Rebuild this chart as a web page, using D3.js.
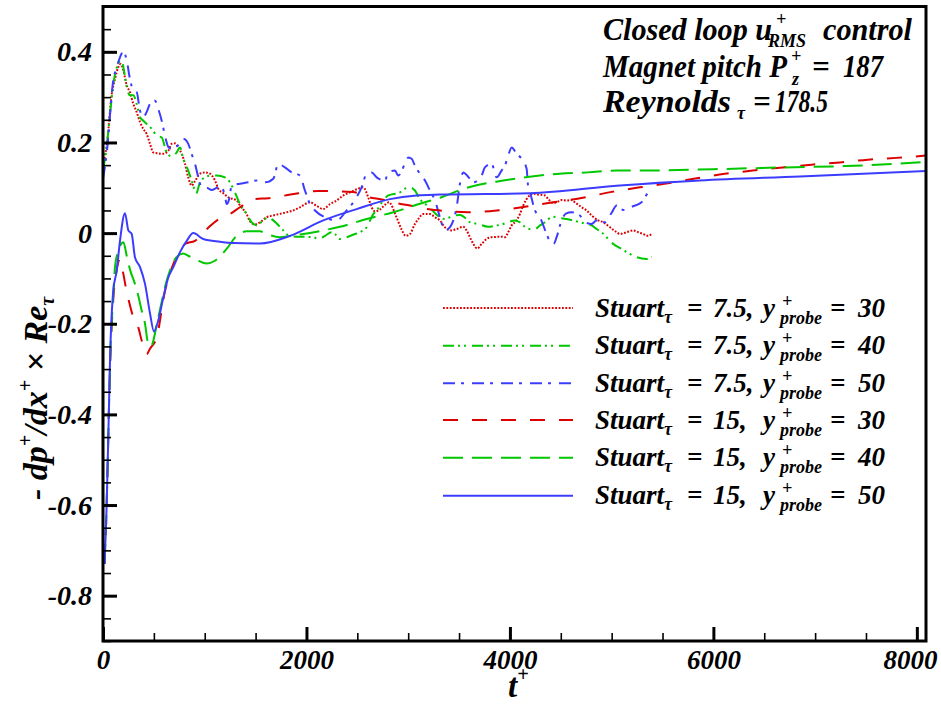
<!DOCTYPE html>
<html><head><meta charset="utf-8">
<script src="https://cdn.jsdelivr.net/npm/d3@7"></script>
<style>body{margin:0;background:#fff}</style>
</head><body>
<svg id="c" width="941" height="706"></svg>
<script>
// ---------------- DATA ----------------
// Stuart_tau = 7.5, y+probe = 30 (red dotted)
const tS75p30 = [0,40,86,118,150,174,200,233,265,298,331,364,396,429,462,494,543,593,642,675,708,740,773,806,838,871,905,953,1002,1052,1101,1133,1183,1232,1314,1346,1412,1445,1494,1543,1609,1674,1805,1870,1936,2035,2100,2165,2231,2297,2362,2427,2509,2558,2607,2641,2673,2722,2770,2810,2885,2935,2975,3017,3066,3099,3148,3214,3263,3312,3361,3427,3476,3541,3574,3607,3640,3679,3722,3771,3820,3918,3951,3983,4017,4066,4098,4131,4164,4229,4279,4344,4377,4426,4459,4508,4557,4606,4639,4705,4754,4803,4868,4917,4983,5049,5081,5147,5212,5261,5310,5359,5392];
const vS75p30 = [0.15,0.2,0.307,0.34,0.366,0.373,0.359,0.326,0.311,0.285,0.267,0.245,0.23,0.219,0.197,0.178,0.176,0.175,0.182,0.197,0.198,0.189,0.175,0.153,0.123,0.105,0.115,0.131,0.134,0.131,0.116,0.098,0.088,0.079,0.072,0.061,0.042,0.026,0.019,0.024,0.035,0.039,0.046,0.05,0.057,0.068,0.06,0.053,0.064,0.072,0.083,0.09,0.098,0.101,0.079,0.057,0.048,0.052,0.062,0.068,0.035,0.008,-0.006,-0.002,0.02,0.031,0.042,0.042,0.035,0.028,0.013,0.006,0.009,0.014,0.006,-0.009,-0.024,-0.034,-0.024,-0.013,-0.009,-0.008,-0.009,0.002,0.017,0.028,0.042,0.061,0.075,0.087,0.085,0.083,0.075,0.066,0.068,0.073,0.072,0.073,0.068,0.057,0.05,0.039,0.028,0.024,0.013,0.002,-0.002,0.002,0.006,0.002,-0.002,-0.006,-0.002];

// Stuart_tau = 7.5, y+probe = 40 (green dash-dot-dot)
const tS75p40 = [0,36,69,118,150,184,206,233,265,298,331,364,396,429,479,528,577,626,675,724,757,789,838,887,914,953,1002,1068,1117,1199,1248,1297,1346,1412,1461,1511,1575,1625,1674,1772,1838,1936,2067,2116,2182,2248,2280,2329,2395,2477,2526,2592,2657,2690,2755,2804,2919,2968,3017,3066,3115,3181,3230,3283,3312,3361,3410,3459,3509,3574,3607,3689,3787,3869,3918,3983,4049,4098,4147,4197,4246,4295,4344,4410,4459,4508,4557,4622,4671,4754,4803,4852,4901,4966,5016,5098,5179,5245,5343,5392];
const vS75p40 = [0.14,0.19,0.263,0.351,0.373,0.381,0.359,0.322,0.304,0.304,0.285,0.256,0.248,0.241,0.23,0.215,0.211,0.178,0.169,0.178,0.189,0.164,0.138,0.105,0.087,0.112,0.123,0.127,0.127,0.123,0.112,0.09,0.064,0.042,0.024,0.017,0.028,0.035,0.028,0.006,-0.007,-0.008,-0.009,-0.013,-0.006,0.002,-0.002,-0.013,-0.009,-0.002,0.002,0.013,0.042,0.05,0.072,0.083,0.09,0.098,0.101,0.094,0.075,0.062,0.052,0.04,0.035,0.031,0.035,0.039,0.04,0.031,0.024,0.02,0.014,0.017,0.019,0.024,0.028,0.024,0.014,0.009,0.009,0.017,0.024,0.035,0.036,0.033,0.031,0.028,0.025,0.02,0.017,0.009,0.002,-0.013,-0.024,-0.035,-0.046,-0.053,-0.057,-0.052];

// Stuart_tau = 7.5, y+probe = 50 (blue dash-dot)
const tS75p50 = [0,36,101,135,167,200,233,265,298,331,364,396,429,462,511,543,577,609,642,675,708,757,789,838,871,904,937,970,1020,1070,1120,1167,1200,1216,1240,1265,1346,1428,1511,1592,1674,1723,1789,1855,1936,1985,2035,2084,2182,2297,2395,2460,2542,2592,2641,2690,2771,2804,2870,2902,2968,3001,3034,3066,3115,3165,3214,3263,3312,3361,3394,3443,3476,3509,3541,3587,3640,3722,3754,3820,3869,3918,3951,3983,4017,4066,4115,4164,4180,4197,4246,4295,4361,4410,4433,4459,4508,4550,4606,4688,4720,4803,4852,4934,5000,5049,5114,5196,5294,5327,5359,5392];
const vS75p50 = [0.12,0.175,0.337,0.366,0.388,0.401,0.381,0.34,0.315,0.311,0.27,0.256,0.267,0.285,0.292,0.274,0.248,0.215,0.19,0.186,0.19,0.197,0.208,0.197,0.175,0.153,0.123,0.101,0.1,0.095,0.1,0.101,0.08,0.064,0.075,0.105,0.109,0.112,0.116,0.112,0.12,0.153,0.145,0.134,0.127,0.094,0.064,0.05,0.035,0.028,0.05,0.068,0.101,0.131,0.134,0.123,0.116,0.134,0.138,0.127,0.153,0.167,0.164,0.149,0.131,0.116,0.094,0.072,0.035,0.006,0.009,0.028,0.057,0.109,0.134,0.125,0.112,0.127,0.145,0.153,0.123,0.138,0.149,0.171,0.189,0.175,0.164,0.142,0.101,0.09,0.05,0.035,-0.002,-0.024,-0.023,-0.009,0.028,0.043,0.046,0.039,0.028,0.02,0.028,0.024,0.045,0.061,0.051,0.058,0.068,0.079,0.09,0.098];

// Stuart_tau = 15, y+probe = 30 (red dashed)
const tS15p30 = [15,36,55,72,100,135,167,200,233,258,298,347,380,429,462,528,610,678,740,806,904,1035,1133,1248,1346,1494,1622,1843,2113,2329,2477,2604,2739,2886,3017,3165,3312,3587,3869,4147,4423,4717,5000,5278,5553,5835,6113,6388,6683,6965,7244,7518,7800,8090];
const vS15p30 = [-0.73,-0.6,-0.42,-0.28,-0.15,-0.08,-0.057,-0.09,-0.13,-0.153,-0.186,-0.208,-0.237,-0.267,-0.255,-0.23,-0.127,-0.076,-0.045,-0.024,-0.017,0.012,0.03,0.042,0.057,0.075,0.077,0.085,0.093,0.092,0.09,0.08,0.074,0.066,0.061,0.054,0.05,0.046,0.05,0.058,0.068,0.078,0.091,0.101,0.11,0.121,0.131,0.138,0.145,0.151,0.156,0.162,0.166,0.171];

// Stuart_tau = 15, y+probe = 40 (green dashed)
const tS15p40 = [15,36,55,72,100,118,150,200,233,265,314,347,380,413,445,470,543,626,724,789,838,921,1019,1100,1215,1314,1412,1543,1609,1740,1936,2165,2329,2592,2853,3132,3312,3574,3934,4213,4491,4767,5049,5300,6000,6700,7300,7800,8090];
const vS15p40 = [-0.73,-0.6,-0.42,-0.27,-0.14,-0.075,-0.04,-0.02,-0.05,-0.08,-0.112,-0.138,-0.171,-0.2,-0.245,-0.25,-0.186,-0.105,-0.053,-0.045,-0.05,-0.059,-0.067,-0.061,-0.035,-0.006,0.004,0.004,-0.002,-0.009,-0.003,0.006,0.014,0.031,0.046,0.066,0.078,0.1,0.116,0.125,0.131,0.134,0.138,0.138,0.141,0.145,0.148,0.153,0.157];

// Stuart_tau = 15, y+probe = 50 (blue solid)
const tS15p50 = [15,36,55,69,101,135,167,216,249,282,314,364,413,462,501,543,593,642,691,757,823,887,986,1150,1281,1543,1838,2165,2493,2821,3083,3312,4197,5081,5867,6850,8090];
const vS15p50 = [-0.73,-0.6,-0.42,-0.28,-0.127,-0.083,-0.017,0.044,0.006,-0.002,-0.053,-0.075,-0.112,-0.177,-0.217,-0.193,-0.142,-0.098,-0.075,-0.042,-0.017,0.0,-0.013,-0.019,-0.022,-0.023,-0.006,0.028,0.053,0.075,0.083,0.085,0.088,0.105,0.116,0.125,0.137];

const stuartValues = ["7.5","7.5","7.5","15","15","15"];
const probeValues  = ["30","40","50","30","40","50"];
const xMajorTicks = [0,2000,4000,6000,8000];
const xTickLabels = ["0","2000","4000","6000","8000"];
const yMajorTicks = [-0.8,-0.6,-0.4,-0.2,0,0.2,0.4];
const yTickLabels = ["-0.8","-0.6","-0.4","-0.2","0","0.2","0.4"];

// ---------------- STYLE / LAYOUT ----------------
const seriesT = [tS75p30,tS75p40,tS75p50,tS15p30,tS15p40,tS15p50];
const seriesV = [vS75p30,vS75p40,vS75p50,vS15p30,vS15p40,vS15p50];
const RED="#dd0000", GREEN="#00c800", BLUE="#3c3cff";
const colors = [RED,GREEN,BLUE,RED,GREEN,BLUE];
const dashes = ["1.8,1.6","11,4,2,4,2,6","12,6,3,8","15,14","20,9",null];

const FONT='"Liberation Serif","Times New Roman",serif';
const M={l:103,r:926,t:6.5,b:641};
const svg=d3.select('#c');
const x=d3.scaleLinear().domain([0,8090]).range([M.l,M.r]);
const y=d3.scaleLinear().domain([-0.9,0.5]).range([M.b,M.t]);

svg.append('rect').attr('width',941).attr('height',706).attr('fill','#fff');
svg.append('defs').append('clipPath').attr('id','clip').append('rect')
  .attr('x',M.l).attr('y',M.t).attr('width',M.r-M.l).attr('height',M.b-M.t);

const line=d3.line().x(d=>x(d[0])).y(d=>y(d[1])).curve(d3.curveMonotoneX);
const gLines=svg.append('g').attr('clip-path','url(#clip)');
seriesT.forEach((ts,i)=>{
  gLines.append('path').attr('d',line(d3.zip(ts,seriesV[i])))
    .attr('fill','none').attr('stroke',colors[i]).attr('stroke-width',2)
    .attr('stroke-dasharray',dashes[i]).attr('stroke-linejoin','round');
});

function styleText(sel,size){
  sel.attr('font-family',FONT).attr('font-weight','bold').attr('font-style','italic')
     .attr('font-size',size).attr('fill','#000');
}
// minor ticks
const yMinor=d3.range(-0.9,0.5001,0.05).filter(v=>!yMajorTicks.some(m=>Math.abs(m-v)<1e-6));
const xMinor=d3.range(0,8090,500).filter(v=>v%2000!==0);
svg.append('g').attr('transform',`translate(${M.l},0)`)
  .call(d3.axisLeft(y).tickValues(yMinor).tickSize(-8).tickFormat(''))
  .call(g=>{g.select('.domain').remove();g.selectAll('line').attr('stroke-width',1.6);});
svg.append('g').attr('transform',`translate(0,${M.b})`)
  .call(d3.axisBottom(x).tickValues(xMinor).tickSize(-8).tickFormat(''))
  .call(g=>{g.select('.domain').remove();g.selectAll('line').attr('stroke-width',1.6);});
// major ticks
svg.append('g').attr('transform',`translate(${M.l},0)`)
  .call(d3.axisLeft(y).tickValues(yMajorTicks).tickSize(-14).tickPadding(11)
    .tickFormat((d,i)=>yTickLabels[i]))
  .call(g=>{g.select('.domain').remove();g.selectAll('line').attr('stroke-width',3);
    styleText(g.selectAll('text'),28);});
svg.append('g').attr('transform',`translate(0,${M.b})`)
  .call(d3.axisBottom(x).tickValues(xMajorTicks).tickSize(-14).tickPadding(9)
    .tickFormat((d,i)=>xTickLabels[i]))
  .call(g=>{g.select('.domain').remove();g.selectAll('line').attr('stroke-width',3);
    styleText(g.selectAll('text'),27);
    // keep the last label inside the picture
    g.selectAll('text').each(function(){
      const b=this.getBBox(); const tx=+this.parentNode.getAttribute('transform').match(/translate\(([-\d.]+)/)[1];
      const right=tx+b.x+b.width; if(right>938) d3.select(this).attr('dx',938-right);
    });});
// frame
svg.append('rect').attr('x',M.l).attr('y',M.t).attr('width',M.r-M.l).attr('height',M.b-M.t)
  .attr('fill','none').attr('stroke','#000').attr('stroke-width',3);

// rich text helper
function rich(parent,x0,y0,pieces,base){
  let cx=x0, prevStart=x0;
  pieces.forEach(p=>{
    const sx = p.x!==undefined ? p.x : (p.stack ? prevStart : cx + (p.gap||0));
    const t=parent.append('text').attr('x',sx).attr('y',y0+(p.dy||0)).text(p.t);
    styleText(t,p.size||base);
    if(p.len){ t.attr('textLength',p.len).attr('lengthAdjust','spacingAndGlyphs'); }
    const w=p.len||t.node().getComputedTextLength();
    cx = p.stack ? Math.max(cx,sx+w) : sx+w;
    prevStart=sx;
  });
}
// annotation
const SUP=18;
rich(svg,603,40,[{t:"Closed loop u",len:169},{t:"+",size:SUP,x:776,dy:-15},{t:"RMS",size:SUP,x:768,dy:7},{t:"control",x:823,len:89}],31);
rich(svg,603,77,[{t:"Magnet pitch P",len:184},{t:"+",size:SUP,x:791,dy:-15},{t:"z",size:SUP,x:792,dy:8},{t:"=",x:812},{t:"187",x:843,len:40}],31);
rich(svg,603,112,[{t:"Reynolds",len:128},{t:"τ",size:SUP,x:737,dy:7},{t:"=",x:753},{t:"178.5",x:775,len:53}],31);

// legend
const legRows=[308,345.7,383.3,420,457.7,495.7];
stuartValues.forEach((s,i)=>{
  const ly=legRows[i];
  svg.append('line').attr('x1',443).attr('x2',573).attr('y1',ly).attr('y2',ly)
    .attr('stroke',colors[i]).attr('stroke-width',2).attr('stroke-dasharray',dashes[i]);
  const by=ly+8.5;
  rich(svg,595,by,[{t:"Stuart"},{t:"τ",size:18,dy:6},{t:"=",x:687},{t:s+",",x:713},
    {t:"y",x:763},{t:"+",size:18,x:782,dy:-10},{t:"probe",size:18,x:780,dy:7},{t:"=",x:830},{t:probeValues[i],x:858}],27);
});

// axis titles
const gy=svg.append('g').attr('transform','translate(47,500) rotate(-90)');
rich(gy,0,0,[{t:"-\u00a0dp"},{t:"+",size:20,dy:-15},{t:"/dx"},{t:"+",size:20,dy:-15},{t:"\u00a0×\u00a0Re"},{t:"τ",size:20,dy:7}],34);
rich(svg,508,697,[{t:"t"},{t:"+",size:20,dy:-16}],33);
</script>
</body></html>
